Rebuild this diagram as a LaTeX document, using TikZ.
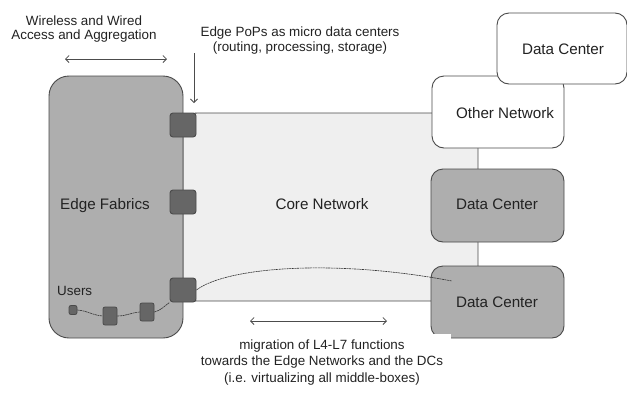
\documentclass[tikz,border=0pt]{standalone}
\usepackage{fontspec}
\setmainfont{Liberation Sans}
\usetikzlibrary{arrows.meta}
\definecolor{boxgray}{HTML}{AEAEAE}
\definecolor{coregray}{HTML}{EFEFEF}
\definecolor{popgray}{HTML}{666666}
\definecolor{edgeline}{HTML}{4A4A4A}
\definecolor{inkgray}{HTML}{222222}
\tikzset{
  annot/.style={text=inkgray, font=\fontsize{13.4}{14.5}\selectfont, align=center, inner sep=0pt},
  boxlabel/.style={text=inkgray, font=\fontsize{15.2}{17}\selectfont, inner sep=0pt},
  roundbox/.style={draw=edgeline, line width=0.9pt, rounded corners=#1, inner sep=0pt},
  roundbox/.default=12pt,
  popbox/.style={draw=edgeline, fill=popgray, line width=0.9pt, rounded corners=3pt, inner sep=0pt, minimum width=26pt, minimum height=24pt},
  userbox/.style={draw=edgeline, fill=popgray, line width=0.8pt, rounded corners=2pt, inner sep=0pt},
  span/.style={draw=gray!60!black, line width=0.8pt, {Straight Barb[length=3.5pt,width=7pt]}-{Straight Barb[length=3.5pt,width=7pt]}},
  pointer/.style={draw=gray!60!black, line width=0.8pt, -{Straight Barb[length=3.5pt,width=7pt]}},
  trace/.style={draw=gray!40!black, line width=0.6pt, dash pattern=on 2pt off 0.6pt},
}
\begin{document}
\begin{tikzpicture}[x=1pt,y=-1pt]
\useasboundingbox (0,0) rectangle (627,394);

% core network area
\node[roundbox=14pt, fill=coregray, minimum width=295pt, minimum height=188pt] (core) at (330.5,207) {};
\node[boxlabel] (corelbl) at (322,204) {Core Network};

% edge fabrics
\node[roundbox=20pt, fill=boxgray, minimum width=134pt, minimum height=262pt] (fabric) at (116,207) {};
\node[boxlabel] (fabriclbl) at (105,206) {Edge Fabrics};

% other network and data centers
\node[roundbox, fill=white, minimum width=132pt, minimum height=72pt] (other) at (498,112) {};
\node[boxlabel] (otherlbl) at (505,113) {Other Network};
\node[roundbox, fill=white, minimum width=130pt, minimum height=71pt] (dctop) at (562,48.5) {};
\node[boxlabel] (dctoplbl) at (563,49) {Data Center};
\node[roundbox, fill=boxgray, minimum width=133pt, minimum height=73pt] (dcone) at (497.5,205.5) {};
\node[boxlabel] (dconelbl) at (497,204) {Data Center};
\node[roundbox, fill=boxgray, minimum width=133pt, minimum height=72pt] (dctwo) at (497.5,302) {};
\node[boxlabel] (dctwolbl) at (497,302) {Data Center};
\fill[white] (431,333.5) rectangle (451,341);

% edge PoPs
\node[popbox] (popa) at (183,125) {};
\node[popbox] (popb) at (183,202) {};
\node[popbox] (popc) at (183,290) {};

% users
\node[userbox, minimum width=8pt, minimum height=9pt] (usera) at (73,310) {};
\node[userbox, minimum width=14pt, minimum height=18pt] (userb) at (110,316) {};
\node[userbox, minimum width=14pt, minimum height=18pt] (userc) at (147,312) {};
\node[annot, anchor=west] (userlbl) at (57,291) {Users};

% path from the users through the PoP into the data center
\coordinate (dcend) at (452,281);
\draw[trace] (usera.east) to[out=-5,in=175] (userb.west);
\draw[trace] (userb.east) to[out=0,in=185] (userc.west);
\draw[trace] (userc.east) to[out=15,in=215] (popc.south west);
\draw[trace] (popc.east) .. controls (225,268) and (330,258) .. (dcend);

% annotations
\node[annot] (accesslbl) at (84,29) {Wireless and Wired\\Access and Aggregation};
\coordinate (accl) at (65,59);
\coordinate (accr) at (167,59);
\draw[span] (accl) -- (accr);

\node[annot] (poplbl) at (300,40.5) {Edge PoPs as micro data centers\\(routing, processing, storage)};
\coordinate (poptop) at (194,53);
\coordinate (poptip) at (194,103);
\draw[pointer] (poptop) -- (poptip);

\coordinate (migl) at (250,321);
\coordinate (migr) at (387,321);
\draw[span] (migl) -- (migr);
\node[annot, font=\fontsize{13.4}{16.3}\selectfont] (miglbl) at (322,362.5) {migration of L4-L7 functions\\towards the Edge Networks and the DCs\\(i.e. virtualizing all middle-boxes)};
\end{tikzpicture}
\end{document}
